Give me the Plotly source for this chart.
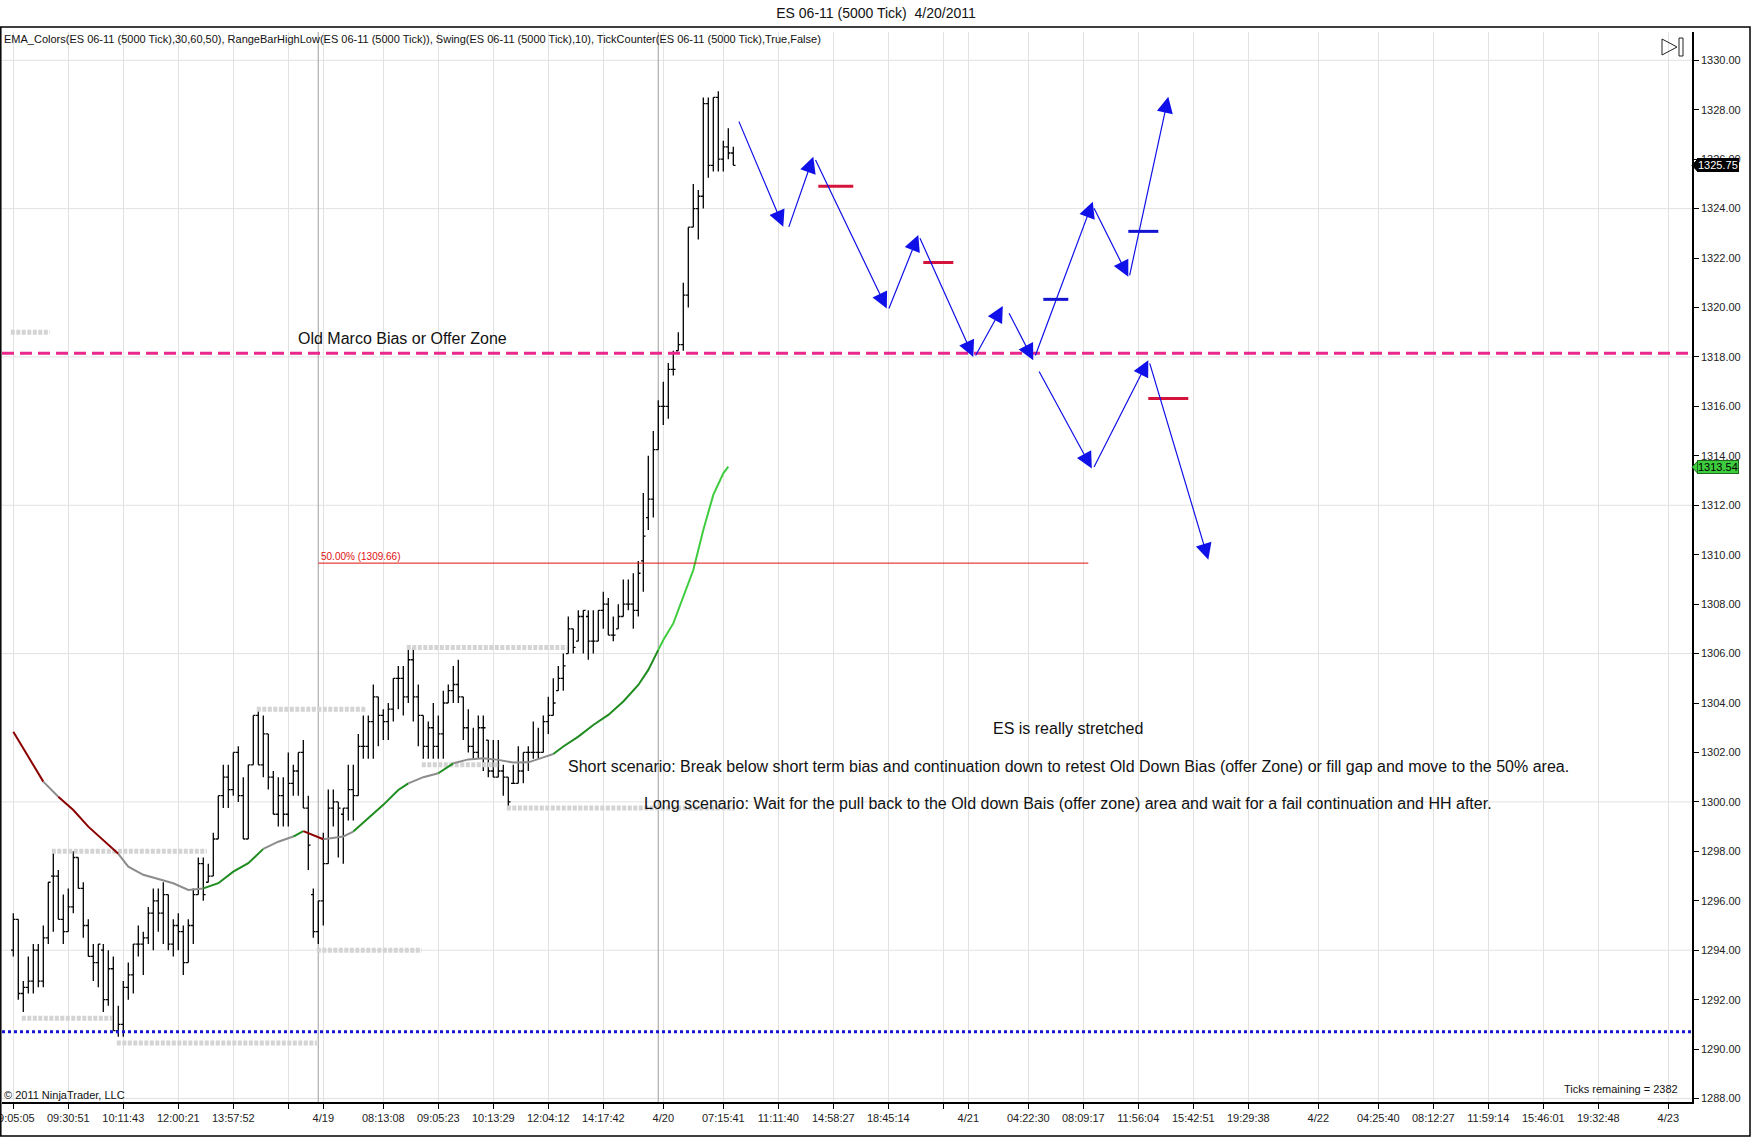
import plotly.graph_objects as go

# ---- values (bar index = position on the tick axis) ----
bar_open = [1294.0, 1295.25, 1292.25, 1292.5, 1292.75, 1294.0, 1292.75, 1294.5, 1297.0, 1297.0,
            1295.25, 1294.75, 1295.75, 1297.75, 1296.5, 1295.0, 1293.75, 1293.5, 1294.0, 1292.0,
            1293.25, 1290.75, 1291.0, 1292.5, 1293.0, 1294.25, 1294.25, 1294.5, 1295.5, 1296.0,
            1295.5, 1296.25, 1294.25, 1295.0, 1294.75, 1293.5, 1295.0, 1296.25, 1297.5, 1296.75,
            1297.0, 1298.5, 1300.25, 1301.0, 1300.5, 1302.0, 1300.25, 1298.5, 1301.5, 1303.5,
            1301.5, 1302.75, 1301.0, 1299.5, 1300.25, 1299.5, 1300.75, 1301.25, 1302.0, 1299.75,
            1296.25, 1294.75, 1296.0, 1297.5, 1299.75, 1300.0, 1299.5, 1299.75, 1300.5, 1300.25,
            1302.25, 1302.25, 1303.25, 1304.25, 1303.5, 1303.25, 1303.75, 1305.0, 1305.0, 1304.25,
            1305.75, 1304.25, 1303.5, 1302.25, 1303.0, 1302.25, 1302.75, 1304.0, 1304.5, 1304.75,
            1304.25, 1303.0, 1302.25, 1302.0, 1303.0, 1302.5, 1301.25, 1301.0, 1301.25, 1301.0,
            1300.75, 1300.75, 1301.25, 1302.0, 1302.0, 1302.0, 1302.0, 1303.25, 1303.5, 1304.5,
            1305.0, 1306.0, 1307.0, 1306.5, 1307.5, 1307.5, 1306.5, 1306.5, 1307.75, 1308.0,
            1306.75, 1307.0, 1307.5, 1308.0, 1308.0, 1307.75, 1309.75, 1311.5, 1312.25, 1314.25,
            1316.0, 1316.0, 1317.5, 1318.25, 1318.5, 1320.5, 1323.25, 1324.0, 1324.5, 1328.25,
            1325.75, 1328.5, 1326.0, 1326.5, 1326.25]
bar_high = [1295.5, 1295.25, 1292.75, 1293.75, 1294.25, 1294.25, 1295.0, 1296.75, 1298.0, 1297.25,
            1296.25, 1296.5, 1298.0, 1297.75, 1296.75, 1295.25, 1294.25, 1294.25, 1294.25, 1294.0,
            1293.75, 1291.75, 1292.75, 1293.5, 1294.25, 1295.0, 1294.75, 1295.75, 1296.5, 1296.5,
            1296.75, 1296.25, 1295.25, 1295.5, 1295.0, 1295.25, 1296.5, 1297.75, 1297.75, 1297.5,
            1298.75, 1300.25, 1301.5, 1301.5, 1302.0, 1302.25, 1301.0, 1301.5, 1303.5, 1303.75,
            1303.5, 1302.75, 1301.25, 1301.0, 1301.0, 1302.0, 1301.5, 1302.0, 1302.5, 1300.25,
            1296.5, 1296.0, 1298.75, 1300.5, 1300.5, 1300.0, 1299.75, 1301.5, 1301.5, 1302.75,
            1303.5, 1303.5, 1304.75, 1304.25, 1303.75, 1304.0, 1305.0, 1305.5, 1305.5, 1306.25,
            1306.25, 1304.75, 1303.5, 1303.25, 1304.0, 1303.5, 1304.5, 1304.75, 1305.5, 1305.75,
            1304.25, 1303.75, 1303.0, 1303.5, 1303.5, 1302.5, 1302.5, 1302.5, 1301.5, 1301.0,
            1301.5, 1302.25, 1302.0, 1302.25, 1303.25, 1303.0, 1303.5, 1304.25, 1305.0, 1305.5,
            1306.0, 1307.5, 1307.0, 1307.75, 1307.75, 1307.75, 1307.75, 1307.75, 1308.5, 1308.25,
            1307.5, 1308.0, 1309.0, 1309.0, 1309.25, 1309.75, 1312.5, 1314.0, 1315.0, 1316.25,
            1317.0, 1317.75, 1318.25, 1319.0, 1321.0, 1323.25, 1325.0, 1324.75, 1328.5, 1328.5,
            1328.5, 1328.75, 1326.75, 1327.25, 1326.5]
bar_low = [1293.75, 1292.0, 1291.5, 1292.25, 1292.25, 1292.5, 1292.5, 1294.25, 1294.75, 1295.25,
           1294.25, 1294.75, 1295.5, 1296.5, 1294.5, 1293.75, 1292.75, 1292.5, 1291.5, 1291.75,
           1290.75, 1290.5, 1290.5, 1292.0, 1292.25, 1293.75, 1293.0, 1294.25, 1294.0, 1294.75,
           1294.25, 1294.0, 1293.75, 1294.0, 1293.0, 1293.5, 1294.25, 1296.25, 1296.0, 1296.75,
           1297.0, 1298.5, 1299.75, 1299.75, 1300.25, 1300.0, 1298.5, 1298.5, 1301.5, 1301.5,
           1301.0, 1300.5, 1299.5, 1299.0, 1299.0, 1299.0, 1300.25, 1300.25, 1299.75, 1297.25,
           1294.5, 1294.25, 1295.0, 1297.5, 1299.0, 1297.75, 1297.5, 1299.25, 1299.25, 1300.25,
           1301.75, 1301.75, 1301.75, 1302.25, 1302.5, 1302.5, 1303.25, 1303.75, 1303.5, 1304.0,
           1303.25, 1302.25, 1301.75, 1301.75, 1301.75, 1301.75, 1301.75, 1304.0, 1304.0, 1304.0,
           1302.5, 1302.0, 1301.75, 1301.75, 1301.25, 1301.0, 1301.0, 1301.0, 1300.25, 1299.75,
           1300.75, 1300.75, 1300.75, 1301.25, 1301.75, 1301.75, 1302.0, 1302.75, 1303.5, 1304.5,
           1304.5, 1306.0, 1306.0, 1306.5, 1306.0, 1305.75, 1306.0, 1306.5, 1307.0, 1306.75,
           1306.5, 1307.0, 1307.5, 1307.75, 1307.0, 1307.5, 1308.5, 1311.0, 1311.5, 1314.25,
           1315.25, 1315.5, 1317.25, 1318.25, 1318.25, 1320.0, 1323.25, 1322.75, 1324.0, 1325.25,
           1325.5, 1325.5, 1325.5, 1326.0, 1325.75]
bar_close = [1295.25, 1292.25, 1292.5, 1292.75, 1294.0, 1292.75, 1294.5, 1296.75, 1297.0, 1295.25,
             1294.75, 1295.75, 1297.75, 1296.5, 1295.0, 1293.75, 1293.5, 1294.25, 1292.0, 1293.25,
             1290.75, 1291.0, 1292.5, 1293.0, 1294.25, 1294.25, 1294.5, 1295.5, 1296.0, 1295.5,
             1296.25, 1294.25, 1295.0, 1294.75, 1293.5, 1295.0, 1296.25, 1297.5, 1296.25, 1297.0,
             1298.5, 1300.25, 1301.0, 1300.5, 1302.0, 1300.25, 1298.5, 1301.5, 1303.5, 1301.5,
             1302.75, 1301.0, 1299.5, 1300.25, 1299.5, 1300.75, 1301.25, 1302.0, 1299.75, 1298.25,
             1294.75, 1296.0, 1297.5, 1299.75, 1300.0, 1299.75, 1299.75, 1300.5, 1300.25, 1302.25,
             1302.25, 1303.25, 1304.25, 1303.5, 1303.25, 1303.75, 1305.0, 1305.0, 1304.25, 1305.75,
             1304.25, 1303.5, 1302.25, 1303.0, 1302.25, 1302.75, 1304.0, 1304.5, 1304.75, 1304.25,
             1303.0, 1302.25, 1302.0, 1303.0, 1303.0, 1301.25, 1301.0, 1301.25, 1301.0, 1300.0,
             1300.75, 1301.25, 1302.0, 1302.0, 1302.0, 1302.0, 1303.25, 1303.5, 1304.0, 1305.0,
             1305.5, 1307.0, 1306.25, 1307.5, 1307.75, 1306.5, 1306.5, 1307.75, 1308.0, 1306.75,
             1306.75, 1307.5, 1308.0, 1308.0, 1307.75, 1309.25, 1310.75, 1312.25, 1314.25, 1316.0,
             1316.0, 1317.5, 1317.5, 1318.5, 1320.5, 1323.25, 1324.0, 1324.5, 1328.25, 1325.75,
             1328.5, 1326.0, 1326.5, 1326.25, 1325.75]
bar_idx = list(range(len(bar_close)))

# EMA_Colors line, sampled along the bars, with its slope colour state
ema_bar = [0, 3, 6, 9, 12, 15, 18, 21, 23, 26, 29, 32, 35, 38, 41, 44, 47, 50, 53, 56,
           58, 60, 62, 64, 66, 68, 71, 74, 77, 79, 82, 85, 88, 91, 94, 97, 100, 103, 106, 108,
           110, 113, 116, 119, 122, 125, 127, 129, 130, 132, 134, 136, 138, 140, 142, 143]
ema_val = [1302.84, 1301.83, 1300.82, 1300.21, 1299.67, 1299.0, 1298.46, 1297.9, 1297.38, 1297.05,
           1296.87, 1296.71, 1296.44, 1296.5, 1296.71, 1297.18, 1297.52, 1298.1, 1298.39, 1298.6,
           1298.82, 1298.66, 1298.49, 1298.53, 1298.6, 1298.8, 1299.34, 1299.88, 1300.48, 1300.75,
           1301.0, 1301.16, 1301.56, 1301.72, 1301.77, 1301.7, 1301.59, 1301.6, 1301.8, 1301.94,
           1302.24, 1302.64, 1303.11, 1303.52, 1304.06, 1304.73, 1305.34, 1306.15, 1306.55, 1307.22,
           1308.3, 1309.38, 1311.0, 1312.42, 1313.29, 1313.56]
ema_state = ["down", "down", "down", "flat", "down", "down", "down", "down", "flat", "flat",
             "flat", "flat", "flat", "flat", "up", "up", "up", "up", "flat", "flat",
             "up", "down", "down", "flat", "flat", "flat", "up", "up", "up", "up",
             "flat", "flat", "up", "flat", "flat", "flat", "flat", "flat", "flat", "flat",
             "up", "up", "up", "up", "up", "up", "up", "up", "fast", "fast",
             "fast", "fast", "fast", "fast", "fast", "fast"]

# RangeBarHighLow dotted levels
rb_level = [1319.0, 1291.25, 1298.0, 1290.25, 1303.75, 1294.0, 1306.25, 1301.5, 1299.75]
rb_start = [-0.5, 1.7, 7.7, 20.7, 48.7, 60.7, 78.7, 81.7, 98.7]
rb_end = [7.3, 19.7, 38.7, 60.7, 70.7, 81.7, 110.7, 97.3, 144.3]

# hand drawn levels
offer_zone = 1318.15
low_line = 1290.7
fib_level = 1309.66
fib_from_bar = 61
fib_to_bar = 215

# projected swing arrows
sw_from_bar = [145, 155, 160.3, 175, 181.2, 192.3, 199, 204.3, 216, 223.2, 205, 216, 227.2]
sw_from_px = [1327.58, 1323.2, 1326.03, 1319.9, 1322.86, 1318.0, 1319.83, 1318.0, 1324.08, 1321.24,
              1317.47, 1313.49, 1317.8]
sw_to_bar = [154, 160, 174.7, 181, 192, 197.9, 204, 215.9, 223, 231, 215.7, 227, 239]
sw_to_px = [1323.27, 1326.1, 1319.96, 1322.93, 1318.0, 1320.06, 1317.87, 1324.28, 1321.24, 1328.53,
            1313.49, 1317.87, 1309.8]

# short entry/target dashes
mk_from_bar = [161, 182, 206, 223, 227]
mk_to_bar = [168, 188, 211, 229, 235]
mk_px = [1324.91, 1321.82, 1320.33, 1323.08, 1316.32]
mk_side = ["short", "short", "long", "long", "short"]

# time axis
tick_bars = [0, 11, 22, 33, 44, 55, 62, 74, 85, 96, 107, 118, 130, 142, 153, 164, 175, 186, 191,
             203, 214, 225, 236, 247, 261, 273, 284, 295, 306, 317, 331]
tick_text = ["09:05:05", "09:30:51", "10:11:43", "12:00:21", "13:57:52", "", "4/19", "08:13:08",
             "09:05:23", "10:13:29", "12:04:12", "14:17:42", "4/20", "07:15:41", "11:11:40",
             "14:58:27", "18:45:14", "", "4/21", "04:22:30", "08:09:17", "11:56:04", "15:42:51",
             "19:29:38", "4/22", "04:25:40", "08:12:27", "11:59:14", "15:46:01", "19:32:48", "4/23"]
date_bars = [61, 129]
price_ticks = list(range(1288, 1332, 2))
grid_levels = list(range(1288, 1332, 6))
last_price = 1325.75
ema_last = 1313.54

FONT = "Liberation Sans, Arial, sans-serif"
W, H = 1752, 1147
PL, PR, PT, PB = 2, 1692, 32, 1102


def fx(px):
    return (px - PL) / (PR - PL)


def fy(py):
    return (PB - py) / (PB - PT)


fig = go.Figure()

# range bar high/low levels (behind the bars)
for lv, a, b in zip(rb_level, rb_start, rb_end):
    fig.add_trace(go.Scatter(x=[a, b], y=[lv, lv], mode="lines", hoverinfo="skip",
                             line=dict(color="#d4d4d4", width=5, dash="4px,1.5px")))

fig.add_trace(go.Ohlc(x=bar_idx, open=bar_open, high=bar_high, low=bar_low, close=bar_close,
                      tickwidth=0.45,
                      increasing=dict(line=dict(color="black", width=1.3)),
                      decreasing=dict(line=dict(color="black", width=1.3))))

# EMA coloured by slope
ema_colors = {"down": "#8b0000", "flat": "#8c8c8c", "up": "#1f8c1f", "fast": "#3fcc3f"}
seg_x, seg_y, seg_state = [ema_bar[0]], [ema_val[0]], ema_state[1]
for i in range(1, len(ema_bar)):
    if ema_state[i] != seg_state:
        fig.add_trace(go.Scatter(x=seg_x, y=seg_y, mode="lines", hoverinfo="skip",
                                 line=dict(color=ema_colors[seg_state], width=2)))
        seg_x, seg_y, seg_state = [ema_bar[i - 1]], [ema_val[i - 1]], ema_state[i]
    seg_x.append(ema_bar[i])
    seg_y.append(ema_val[i])
fig.add_trace(go.Scatter(x=seg_x, y=seg_y, mode="lines", hoverinfo="skip",
                         line=dict(color=ema_colors[seg_state], width=2)))

# 50% retracement
fig.add_trace(go.Scatter(x=[fib_from_bar, fib_to_bar], y=[fib_level, fib_level], mode="lines",
                         hoverinfo="skip", line=dict(color="#e01010", width=1)))

# entry / target dashes
for a, b, p, s in zip(mk_from_bar, mk_to_bar, mk_px, mk_side):
    fig.add_trace(go.Scatter(x=[a, b], y=[p, p], mode="lines", hoverinfo="skip",
                             line=dict(color="#d5143c" if s == "short" else "#1414d0", width=3)))

# grid
for g in grid_levels:
    fig.add_hline(y=g, line=dict(color="#e2e2e2", width=1), layer="below")
for d in date_bars:
    fig.add_vline(x=d, line=dict(color="#b4b4b4", width=1.3), layer="below")

fig.add_hline(y=offer_zone, line=dict(color="#e8288c", width=3, dash="12px,6px"))
fig.add_hline(y=low_line, line=dict(color="#1414d2", width=3, dash="dot"))

# swing arrows
for x0, y0, x1, y1 in zip(sw_from_bar, sw_from_px, sw_to_bar, sw_to_px):
    fig.add_annotation(x=x1, y=y1, ax=x0, ay=y0, xref="x", yref="y", axref="x", ayref="y",
                       text="", showarrow=True, arrowhead=2, arrowsize=2.7, arrowwidth=1.2,
                       arrowcolor="#1010e8")

txt = dict(xref="x", yref="y", showarrow=False, font=dict(family=FONT, size=16, color="#111"))
fig.add_annotation(x=77.8, y=1318.74, text="Old Marco Bias or Offer Zone", **txt)
fig.add_annotation(x=211, y=1302.97, text="ES is really stretched", **txt)
fig.add_annotation(x=211, y=1301.43,
                   text="Short scenario: Break below short term bias and continuation down to retest "
                        "Old Down Bias (offer Zone) or fill gap and move to the 50% area.", **txt)
fig.add_annotation(x=211, y=1299.94,
                   text="Long scenario: Wait for the pull back to the Old down Bais (offer zone) area "
                        "and wait for a fail continuation and HH after.", **txt)
fig.add_annotation(x=fib_from_bar + 0.2, y=fib_level, yshift=7, xanchor="left", xref="x", yref="y",
                   showarrow=False, text="50.00% (1309.66)",
                   font=dict(family=FONT, size=10, color="#e01010"))

small = dict(family=FONT, size=11, color="#111")
fig.add_annotation(x=fx(2), y=fy(39), xref="paper", yref="paper", xanchor="left", yanchor="middle",
                   showarrow=False, font=small,
                   text="EMA_Colors(ES 06-11 (5000 Tick),30,60,50), RangeBarHighLow(ES 06-11 (5000 Tick)), "
                        "Swing(ES 06-11 (5000 Tick),10), TickCounter(ES 06-11 (5000 Tick),True,False)")
fig.add_annotation(x=fx(2), y=fy(1095), xref="paper", yref="paper", xanchor="left", yanchor="middle",
                   showarrow=False, text="© 2011 NinjaTrader, LLC", font=small)
fig.add_annotation(x=fx(1680), y=fy(1089), xref="paper", yref="paper", xanchor="right",
                   yanchor="middle", showarrow=False, text="Ticks remaining = 2382", font=small)

# price markers on the axis
for p, bg, fg, bd in [(last_price, "black", "white", "black"), (ema_last, "#3dcc3d", "black", "#1d6b1d")]:
    fig.add_annotation(x=1, y=p, xref="paper", yref="y", xanchor="left", xshift=5, showarrow=False,
                       text=f"{p:.2f}", bgcolor=bg, bordercolor=bd, borderwidth=1, borderpad=0,
                       font=dict(family=FONT, size=11, color=fg))
    fig.add_shape(type="path", xref="paper", yref="y",
                  path=f"M {fx(1692)},{p} L {fx(1698)},{p + 0.26} L {fx(1698)},{p - 0.26} Z",
                  fillcolor=bg, line=dict(color=bd, width=1))

# play-to-end icon and outer frame
fig.add_shape(type="path", xref="paper", yref="paper",
              path=f"M {fx(1662)},{fy(39)} L {fx(1677)},{fy(47)} L {fx(1662)},{fy(55)} Z",
              line=dict(color="#222", width=1))
fig.add_shape(type="rect", xref="paper", yref="paper", x0=fx(1679), x1=fx(1683), y0=fy(38), y1=fy(56),
              line=dict(color="#222", width=1))
fig.add_shape(type="rect", xref="paper", yref="paper", x0=fx(0.8), x1=fx(1750), y0=fy(27), y1=fy(1136),
              line=dict(color="black", width=1.5))

fig.update_layout(
    width=W, height=H, autosize=False,
    margin=dict(l=PL, r=W - PR, t=PT, b=H - PB, autoexpand=False),
    paper_bgcolor="white", plot_bgcolor="white",
    showlegend=False,
    font=dict(family=FONT, size=11, color="#222"),
    title=dict(text="ES 06-11 (5000 Tick)  4/20/2011", x=0.5, xref="container", xanchor="center",
               y=1 - 13.5 / H, yref="container", yanchor="middle",
               font=dict(family=FONT, size=14, color="#111")),
)
fig.update_xaxes(range=[-2.26, 335.74], tickmode="array", tickvals=tick_bars, ticktext=tick_text,
                 showgrid=True, gridcolor="#e2e2e2", gridwidth=1, zeroline=False, automargin=False,
                 showline=True, linecolor="black", linewidth=1.5, ticks="outside", ticklen=5,
                 tickcolor="black", tickfont=dict(family=FONT, size=11, color="#222"),
                 ticklabeloverflow="allow", rangeslider=dict(visible=False))
fig.update_yaxes(range=[1287.86, 1331.145], side="right", tickmode="array", tickvals=price_ticks,
                 tickformat=".2f", showgrid=False, zeroline=False, automargin=False,
                 showline=True, linecolor="black", linewidth=1.5, ticks="outside", ticklen=5,
                 tickcolor="black", tickfont=dict(family=FONT, size=11, color="#222"),
                 ticklabeloverflow="allow")

fig.write_html("out.html", config={"displayModeBar": False},
               post_script="document.body.style.margin='0';document.body.style.overflow='hidden';")
